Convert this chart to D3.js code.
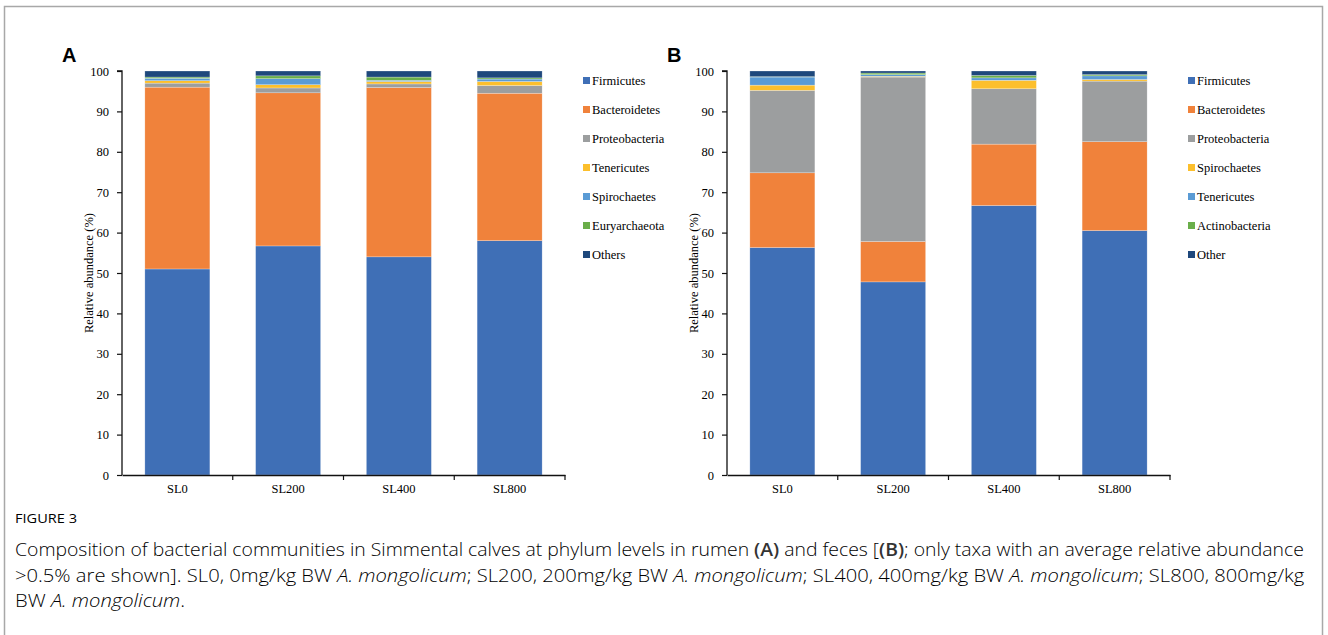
<!DOCTYPE html>
<meta charset="utf-8">
<script src="https://d3js.org/d3.v7.min.js"></script>
<style>
  body { margin: 0; background: #fff; }
  svg text { fill: #000; }
</style>
<body>
<script>

// groups on the x axis
var groups = ["SL0", "SL200", "SL400", "SL800"];

// panel A : rumen (bottom of stack first)
var taxaA = ["Firmicutes", "Bacteroidetes", "Proteobacteria", "Tenericutes", "Spirochaetes", "Euryarchaeota", "Others"];
var firmicutesA     = [51.0, 56.7, 54.0, 58.0];
var bacteroidetesA  = [45.0, 37.9, 41.9, 36.5];
var proteobacteriaA = [1.0, 1.2, 0.9, 1.9];
var tenericutesA    = [0.6, 0.8, 0.6, 1.0];
var spirochaetesA   = [0.6, 1.5, 0.3, 0.6];
var euryarchaeotaA  = [0.3, 0.7, 0.8, 0.3];
var othersA         = [1.5, 1.2, 1.5, 1.7];

// panel B : feces
var taxaB = ["Firmicutes", "Bacteroidetes", "Proteobacteria", "Spirochaetes", "Tenericutes", "Actinobacteria", "Other"];
var firmicutesB     = [56.3, 47.8, 66.7, 60.5];
var bacteroidetesB  = [18.5, 10.0, 15.2, 22.0];
var proteobacteriaB = [20.4, 40.7, 13.7, 15.0];
var spirochaetesB   = [1.3, 0.2, 2.1, 0.4];
var tenericutesB    = [2.0, 0.4, 0.6, 0.9];
var actinobacteriaB = [0.1, 0.4, 0.6, 0.3];
var otherB          = [1.4, 0.5, 1.1, 0.9];

var yTicks = [0, 10, 20, 30, 40, 50, 60, 70, 80, 90, 100];

// colours per stack position
var colorsA = ["#3f6fb6", "#f0823b", "#9c9e9f", "#fcbf2c", "#5a9bd5", "#6aae4a", "#1e487c"];
var colorsB = ["#3f6fb6", "#f0823b", "#9c9e9f", "#fcbf2c", "#5a9bd5", "#6aae4a", "#1e487c"];

var width = 1328, height = 635;

var svg = d3.select("body").append("svg")
    .attr("width", width)
    .attr("height", height);

// thin frame round the figure
svg.append("rect")
    .attr("x", 4.5).attr("y", 6.5)
    .attr("width", 1318).attr("height", 660)
    .attr("fill", "none")
    .attr("stroke", "#a8a8a8")
    .attr("stroke-width", 1.5);

function rows(taxa, series) {
    return groups.map(function(g, i) {
        var r = { group: g };
        taxa.forEach(function(t, k) { r[t] = series[k][i]; });
        return r;
    });
}

var serif = "'Liberation Serif', 'Times New Roman', serif";

function drawPanel(opt) {
    var g = svg.append("g");

    var x = d3.scaleBand()
        .domain(groups)
        .range([opt.x0, opt.x1])
        .paddingInner(0.413)
        .paddingOuter(0.2065);

    var y = d3.scaleLinear()
        .domain([0, 100])
        .range([475, 71]);

    var stack = d3.stack().keys(opt.taxa)(rows(opt.taxa, opt.series));

    // bars
    g.selectAll("g.layer")
        .data(stack)
        .enter().append("g")
        .attr("class", "layer")
        .attr("fill", function(d, i) { return opt.colors[i]; })
        .selectAll("rect")
        .data(function(d) { return d; })
        .enter().append("rect")
        .attr("x", function(d) { return x(d.data.group); })
        .attr("width", x.bandwidth())
        .attr("y", function(d) { return y(d[1]); })
        .attr("height", function(d) { return y(d[0]) - y(d[1]); })
        .attr("stroke", "#ffffff")
        .attr("stroke-opacity", 0.5)
        .attr("stroke-width", 0.5);

    // y axis
    var ya = g.append("g")
        .attr("transform", "translate(" + opt.x0 + ",0)")
        .call(d3.axisLeft(y).tickValues(yTicks).tickSize(5).tickPadding(8));
    ya.select(".domain").attr("stroke", "#111").attr("stroke-width", 1.3).attr("d", "M-5," + y(100) + "H0V" + y(0));
    ya.selectAll(".tick line").attr("stroke", "#111").attr("stroke-width", 1.2);
    ya.selectAll(".tick text")
        .style("font-family", serif)
        .style("font-size", "12.5px")
        .attr("fill", "#1a1a1a");

    // x axis: labels from band scale, ticks on band edges
    var xa = g.append("g")
        .attr("transform", "translate(0," + y(0) + ")")
        .call(d3.axisBottom(x).tickSize(0).tickPadding(9));
    xa.select(".domain").attr("stroke", "#111").attr("stroke-width", 1.3);
    xa.selectAll(".tick text")
        .style("font-family", serif)
        .style("font-size", "12.5px")
        .attr("fill", "#1a1a1a");
    groups.forEach(function(d) {
        var edge = x(d) + x.bandwidth() + x.step() * x.paddingInner() / 2;
        xa.append("line")
            .attr("x1", edge).attr("x2", edge)
            .attr("y1", 0).attr("y2", 5)
            .attr("stroke", "#111").attr("stroke-width", 1.2);
    });

    // y title
    g.append("text")
        .attr("transform", "translate(" + (opt.x0 - 29) + "," + ((y(0) + y(100)) / 2) + ") rotate(-90)")
        .attr("text-anchor", "middle")
        .style("font-family", serif)
        .style("font-size", "12.5px")
        .attr("fill", "#1a1a1a")
        .text("Relative abundance (%)");

    // panel letter
    g.append("text")
        .attr("x", opt.x0 - 60).attr("y", 62)
        .style("font-family", "'Liberation Sans', Arial, sans-serif")
        .style("font-weight", "bold")
        .style("font-size", "20px")
        .text(opt.letter);

    // legend
    var leg = g.selectAll("g.leg")
        .data(opt.taxa)
        .enter().append("g")
        .attr("class", "leg")
        .attr("transform", function(d, i) { return "translate(" + (opt.x1 + 18) + "," + (81 + i * 29) + ")"; });
    leg.append("rect")
        .attr("x", 0).attr("y", -4)
        .attr("width", 7).attr("height", 7)
        .attr("fill", function(d, i) { return opt.colors[i]; });
    leg.append("text")
        .attr("x", 9).attr("y", 4)
        .style("font-family", serif)
        .style("font-size", "12.5px")
        .attr("fill", "#1a1a1a")
        .text(function(d) { return d; });
}

drawPanel({
    letter: "A", x0: 122, x1: 565, taxa: taxaA, colors: colorsA,
    series: [firmicutesA, bacteroidetesA, proteobacteriaA, tenericutesA, spirochaetesA, euryarchaeotaA, othersA]
});
drawPanel({
    letter: "B", x0: 727, x1: 1170, taxa: taxaB, colors: colorsB,
    series: [firmicutesB, bacteroidetesB, proteobacteriaB, spirochaetesB, tenericutesB, actinobacteriaB, otherB]
});

// caption, each line squeezed horizontally to mimic the condensed journal face
var capFont = "'Open Sans', 'Noto Sans', sans-serif";
var capLeft = 15;

var lines = [
    [["Composition of bacterial communities in Simmental calves at phylum levels in rumen ", ""], ["(A)", "b"], [" and feces [", ""], ["(B)", "b"], ["; only taxa with an average relative abundance", ""]],
    [[">0.5% are shown]. SL0, 0mg/kg BW ", ""], ["A. mongolicum", "i"], ["; SL200, 200mg/kg BW ", ""], ["A. mongolicum", "i"], ["; SL400, 400mg/kg BW ", ""], ["A. mongolicum", "i"], ["; SL800, 800mg/kg", ""]],
    [["BW ", ""], ["A. mongolicum", "i"], [".", ""]]
];
var lineWidth = [1290, 1290, null];

var lastScale = 1;
lines.forEach(function(parts, i) {
    var t = svg.append("text")
        .attr("x", 0).attr("y", 0)
        .style("font-family", capFont)
        .style("font-size", "18px")
        .style("font-weight", "300")
        .attr("fill", "#4d4d4d");
    parts.forEach(function(p) {
        var s = t.append("tspan").text(p[0]);
        if (p[1] === "b") s.style("font-weight", "600").attr("fill", "#333");
        if (p[1] === "i") s.style("font-style", "italic");
    });
    if (lineWidth[i]) lastScale = lineWidth[i] / t.node().getComputedTextLength();
    t.attr("transform", "translate(" + capLeft + "," + (556 + i * 25.5) + ") scale(" + lastScale + ",1)");
});

svg.append("text")
    .attr("x", 0).attr("y", 0)
    .attr("transform", "translate(" + capLeft + ",523) scale(" + lastScale + ",1)")
    .style("font-family", capFont)
    .style("font-size", "13px")
    .attr("fill", "#555")
    .text("FIGURE 3");

</script>
</body>
